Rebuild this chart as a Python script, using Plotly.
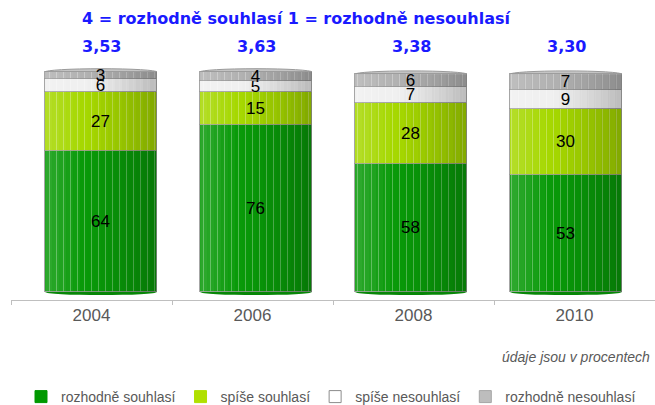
import plotly.graph_objects as go

# Survey answers per year (percent)
years = ["2004", "2006", "2008", "2010"]
series_names = ["rozhodně souhlasí", "spíše souhlasí", "spíše nesouhlasí", "rozhodně nesouhlasí"]
strongly_agree = [64, 76, 58, 53]
rather_agree = [27, 15, 28, 30]
rather_disagree = [6, 5, 7, 9]
strongly_disagree = [3, 4, 6, 7]
mean_scores = ["3,53", "3,63", "3,38", "3,30"]

series_values = [strongly_agree, rather_agree, rather_disagree, strongly_disagree]
bar_colors = ["#099a09", "#a6d800", "#f0f0f0", "#b2b2b2"]
legend_colors = ["#009900", "#b0e000", "#ffffff", "#bdbdbd"]
legend_lines = ["#009900", "#b0e000", "#8c8c8c", "#a6a6a6"]

positions = list(range(len(years)))
bar_w = 0.72
totals = [sum(v) for v in zip(*series_values)]

W, H = 655, 405
ml, mr, mt, mb = 11, 0, 60, 105
plot_w = W - ml - mr
plot_h = H - mt - mb
px_per_unit = 155.0
x2_lo = -90.0 / px_per_unit
x2_hi = x2_lo + plot_w / px_per_unit
y_px_per_pct = 2.2
y_lo = -(8.0 / y_px_per_pct)
y_hi = y_lo + plot_h / y_px_per_pct


def paper_y(py):
    return (H - mb - py) / plot_h


fig = go.Figure()

# invisible trace so the category axis carries the year labels
fig.add_trace(go.Scatter(x=years, y=[0] * len(years), mode="markers",
                         marker=dict(opacity=0), showlegend=False,
                         hoverinfo="skip", xaxis="x", yaxis="y"))

for name, vals, col in zip(series_names, series_values, bar_colors):
    fig.add_trace(go.Bar(
        x=positions, y=vals, name=name, width=bar_w,
        xaxis="x2", yaxis="y", showlegend=False,
        marker=dict(color=col, line=dict(color="rgba(150,150,150,0.85)", width=1),
                    pattern=dict(shape="|", fgcolor="white", fgopacity=0.35,
                                 size=7, solidity=0.12)),
        text=[str(v) for v in vals], textposition="inside",
        insidetextanchor="middle", textangle=0,
        textfont=dict(family="Arial, Liberation Sans", size=17, color="black"),
        cliponaxis=False,
    ))

# plain legend entries
for name, col, lc in zip(series_names, legend_colors, legend_lines):
    fig.add_trace(go.Bar(x=[None], y=[None], name=name, xaxis="x2", yaxis="y",
                         marker=dict(color=col, line=dict(color=lc, width=1))))

shapes = []
n_slices = 16
for p, tot in zip(positions, totals):
    left = p - bar_w / 2
    # rounded bottom
    shapes.append(dict(type="circle", xref="x2", yref="y", layer="below",
                       x0=left, x1=left + bar_w, y0=-1.4, y1=1.4,
                       fillcolor="#078607", line=dict(width=0)))
    # lid on top
    shapes.append(dict(type="circle", xref="x2", yref="y", layer="below",
                       x0=left, x1=left + bar_w, y0=tot - 1.5, y1=tot + 1.5,
                       fillcolor="#c4c4c4", line=dict(color="#9a9a9a", width=1)))
    # horizontal light-to-dark shading of the cylinder
    for k in range(n_slices):
        t = (k + 0.5) / n_slices
        if t < 0.35:
            fill = "rgba(255,255,255,%.3f)" % (0.16 * (0.35 - t) / 0.35)
        else:
            fill = "rgba(0,0,0,%.3f)" % (0.22 * ((t - 0.35) / 0.65) ** 1.3)
        shapes.append(dict(type="rect", xref="x2", yref="y", layer="above",
                           x0=left + k * bar_w / n_slices,
                           x1=left + (k + 1) * bar_w / n_slices,
                           y0=0, y1=tot, fillcolor=fill, line=dict(width=0)))

annotations = []
for p, s in zip(positions, mean_scores):
    annotations.append(dict(x=p, xref="x2", y=paper_y(47), yref="paper",
                            text="<b>%s</b>" % s, showarrow=False,
                            xanchor="center", yanchor="middle",
                            font=dict(family="DejaVu Sans", size=16, color="#1a1aff")))
annotations.append(dict(x=(80 - ml) / plot_w, xref="paper", y=paper_y(19), yref="paper",
                        text="<b>4 = rozhodně souhlasí 1 = rozhodně nesouhlasí</b>",
                        showarrow=False, xanchor="left", yanchor="middle",
                        font=dict(family="DejaVu Sans", size=16, color="#1a1aff")))
annotations.append(dict(x=(652 - ml) / plot_w, xref="paper", y=paper_y(357), yref="paper",
                        text="<i>údaje jsou v procentech</i>", showarrow=False,
                        xanchor="right", yanchor="middle",
                        font=dict(family="Arial, Liberation Sans", size=14, color="#595959")))

fig.update_layout(
    width=W, height=H,
    margin=dict(l=ml, r=mr, t=mt, b=mb, autoexpand=False),
    paper_bgcolor="white", plot_bgcolor="white",
    barmode="stack", bargap=0,
    uniformtext=dict(minsize=17, mode="show"),
    xaxis=dict(type="category", categoryorder="array", categoryarray=years,
               range=[-0.5, len(years) - 0.5], tickson="boundaries",
               ticks="outside", ticklen=4, tickcolor="#bfbfbf",
               showline=True, linecolor="#bfbfbf", linewidth=1,
               showgrid=False, zeroline=False, fixedrange=True,
               tickfont=dict(family="Arial, Liberation Sans", size=17, color="#595959")),
    xaxis2=dict(overlaying="x", range=[x2_lo, x2_hi], visible=False,
                showgrid=False, zeroline=False),
    yaxis=dict(range=[y_lo, y_hi], visible=False, showgrid=False, zeroline=False),
    showlegend=True,
    legend=dict(orientation="h", x=(21 - ml) / plot_w, xanchor="left", y=paper_y(397),
                yanchor="middle", traceorder="normal",
                font=dict(family="Arial, Liberation Sans", size=14, color="#595959"),
                itemwidth=30, bgcolor="rgba(0,0,0,0)"),
    shapes=shapes, annotations=annotations,
)

fig.write_html("out.html")
